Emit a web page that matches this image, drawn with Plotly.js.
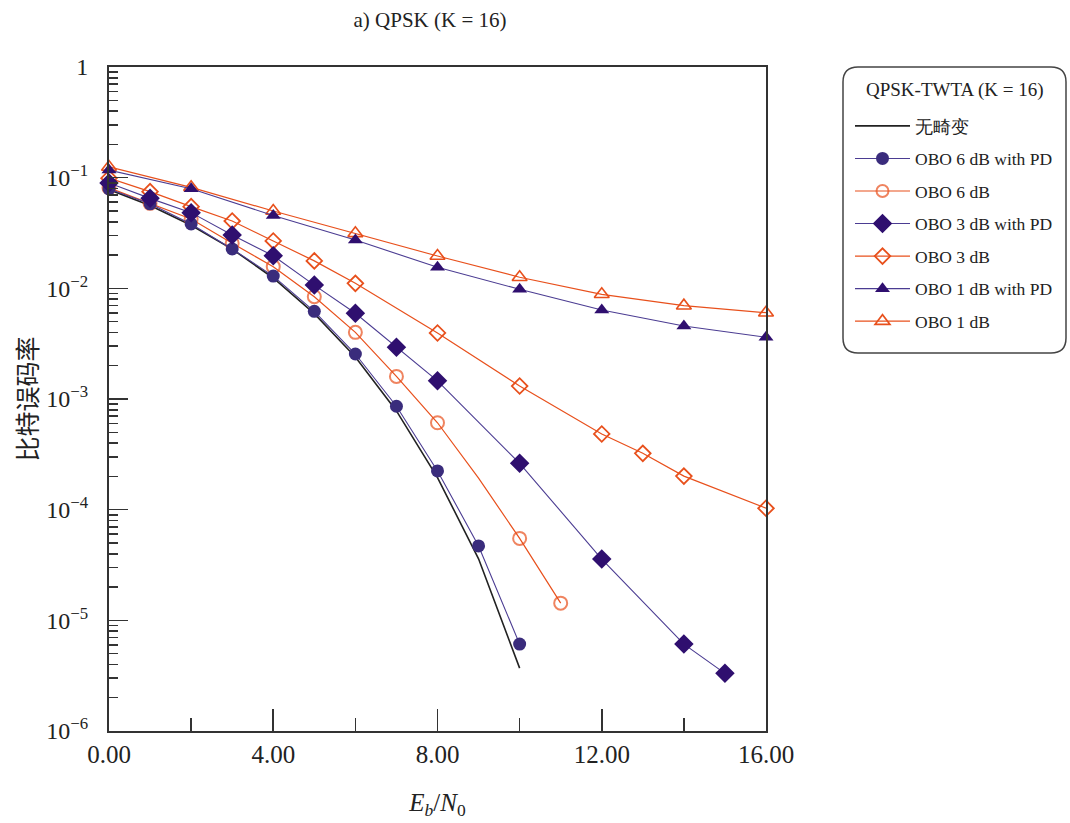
<!DOCTYPE html>
<html>
<head>
<meta charset="utf-8">
<script src="https://cdn.plot.ly/plotly-3.0.1.min.js"></script>
<style>
  html, body { margin: 0; padding: 0; background: #ffffff; }
  #chart { width: 1070px; height: 823px; }
</style>
</head>
<body>
<div id="chart"></div>
<script>
// Eb/N0 grids (dB)
const ebn0Ideal   = [0, 1, 2, 3, 4, 5, 6, 7, 8, 9, 10];
const ebn0Obo6PD  = [0, 1, 2, 3, 4, 5, 6, 7, 8, 9, 10];
const ebn0Obo6    = [0, 1, 2, 3, 4, 5, 6, 7, 8, 9, 10, 11];
const ebn0Obo3PD  = [0, 1, 2, 3, 4, 5, 6, 7, 8, 10, 12, 14, 15];
const ebn0Obo3    = [0, 1, 2, 3, 4, 5, 6, 8, 10, 12, 13, 14, 16];
const ebn0Obo1PD  = [0, 2, 4, 6, 8, 10, 12, 14, 16];
const ebn0Obo1    = [0, 2, 4, 6, 8, 10, 12, 14, 16];

// Bit error rates
const berIdeal  = [0.078, 0.056, 0.0372, 0.0226, 0.0124, 0.0059, 0.0024, 7.8e-4, 1.95e-4, 3.6e-5, 3.7e-6];
const berObo6PD = [0.079, 0.058, 0.0382, 0.0227, 0.0129, 6.2e-3, 2.55e-3, 8.6e-4, 2.24e-4, 4.7e-5, 6.1e-6];
const berObo6   = [0.081, 0.0586, 0.0423, 0.0255, 0.0157, 8.4e-3, 4.0e-3, 1.6e-3, 6.1e-4, 1.93e-4, 5.5e-5, 1.43e-5];
const berObo3PD = [0.0895, 0.065, 0.0483, 0.0303, 0.0197, 0.0107, 5.95e-3, 2.93e-3, 1.46e-3, 2.62e-4, 3.58e-5, 6.1e-6, 3.32e-6];
const berObo3   = [0.099, 0.0747, 0.0547, 0.0406, 0.0268, 0.0177, 0.0111, 3.95e-3, 1.31e-3, 4.83e-4, 3.23e-4, 2.01e-4, 1.03e-4];
const berObo1PD = [0.117, 0.0795, 0.0455, 0.0273, 0.0155, 9.8e-3, 6.37e-3, 4.57e-3, 3.61e-3];
const berObo1   = [0.125, 0.0818, 0.0500, 0.0314, 0.0196, 0.0126, 8.83e-3, 6.97e-3, 6.02e-3];

// Axis tick labels
const xTickVals = [0, 4, 8, 12, 16];
const xTickText = ['0.00', '4.00', '8.00', '12.00', '16.00'];
const yTickVals = [1, 1e-1, 1e-2, 1e-3, 1e-4, 1e-5, 1e-6];
const yTickText = ['1', '10<sup>\u22121</sup>', '10<sup>\u22122</sup>', '10<sup>\u22123</sup>',
                   '10<sup>\u22124</sup>', '10<sup>\u22125</sup>', '10<sup>\u22126</sup>'];

const ORANGE = '#e8501c';
const PURPLE_LINE = '#4b3c92';
const PURPLE_DARK = '#2f0f6f';
const PURPLE_DOT = '#3a2c7c';
const SERIF = 'Liberation Serif, Times New Roman, serif';

// minor ticks at 2..9 within each decade
const yMinor = [];
for (let d = -6; d < 0; d++) {
  for (let m = 2; m <= 9; m++) yMinor.push(m * Math.pow(10, d));
}

// OBO 6 dB curve has a vertex at 9 dB without a symbol
const obo6Sizes = ebn0Obo6.map(v => (v === 9 ? 0 : 13));

const traces = [
  { name: '无畸变', x: ebn0Ideal, y: berIdeal, mode: 'lines',
    line: { color: '#222222', width: 1.6 }, legendrank: 1 },
  { name: 'OBO 6 dB', x: ebn0Obo6, y: berObo6, mode: 'lines+markers',
    line: { color: ORANGE, width: 1.2 },
    marker: { symbol: 'circle-open', size: obo6Sizes, color: ORANGE, line: { width: 2, color: ORANGE } },
    legendrank: 3 },
  { name: 'OBO 3 dB', x: ebn0Obo3, y: berObo3, mode: 'lines+markers',
    line: { color: ORANGE, width: 1.2 },
    marker: { symbol: 'diamond-open', size: 12, color: ORANGE, line: { width: 1.8, color: ORANGE } },
    legendrank: 5 },
  { name: 'OBO 1 dB', x: ebn0Obo1, y: berObo1, mode: 'lines+markers',
    line: { color: ORANGE, width: 1.2 },
    marker: { symbol: 'triangle-up-open', size: 13, color: ORANGE, line: { width: 1.6, color: ORANGE } },
    legendrank: 7 },
  { name: 'OBO 6 dB with PD', x: ebn0Obo6PD, y: berObo6PD, mode: 'lines+markers',
    line: { color: PURPLE_LINE, width: 1.1 },
    marker: { symbol: 'circle', size: 13, color: PURPLE_DOT },
    legendrank: 2 },
  { name: 'OBO 3 dB with PD', x: ebn0Obo3PD, y: berObo3PD, mode: 'lines+markers',
    line: { color: PURPLE_LINE, width: 1.1 },
    marker: { symbol: 'diamond', size: 15, color: PURPLE_DARK },
    legendrank: 4 },
  { name: 'OBO 1 dB with PD', x: ebn0Obo1PD, y: berObo1PD, mode: 'lines+markers',
    line: { color: PURPLE_LINE, width: 1.1 },
    marker: { symbol: 'triangle-up', size: 13, color: PURPLE_DARK },
    legendrank: 6 }
].map((t, i) => Object.assign({ type: 'scatter', cliponaxis: false, legendgroup: 'g' + i }, t));

// plot area in pixels
const L = 109, R = 766, T = 67, B = 731, W = 1070, H = 823;
const px = v => (v - L) / (R - L);
const py = v => (B - v) / (B - T);

// rounded frame around the legend
function roundedBox(x0, y0, x1, y1, r) {
  const P = (a, b) => px(a).toFixed(5) + ',' + py(b).toFixed(5);
  return 'M' + P(x0 + r, y0) + ' L' + P(x1 - r, y0) + ' Q' + P(x1, y0) + ' ' + P(x1, y0 + r) +
         ' L' + P(x1, y1 - r) + ' Q' + P(x1, y1) + ' ' + P(x1 - r, y1) +
         ' L' + P(x0 + r, y1) + ' Q' + P(x0, y1) + ' ' + P(x0, y1 - r) +
         ' L' + P(x0, y0 + r) + ' Q' + P(x0, y0) + ' ' + P(x0 + r, y0) + ' Z';
}

const layout = {
  width: W, height: H,
  margin: { l: L, r: W - R, t: T, b: H - B, pad: 0 },
  paper_bgcolor: '#ffffff', plot_bgcolor: '#ffffff',
  font: { family: SERIF, color: '#222222' },
  showlegend: true,
  title: {
    text: 'a) QPSK (K = 16)',
    font: { family: SERIF, size: 21, color: '#222222' },
    x: px(430), xref: 'paper', xanchor: 'center',
    y: 1 - 20 / H, yref: 'container', yanchor: 'middle'
  },
  xaxis: {
    type: 'linear', range: [0, 16], autorange: false,
    tickmode: 'array', tickvals: xTickVals, ticktext: xTickText,
    ticks: 'inside', ticklen: 22, tickwidth: 1.6, tickcolor: '#333333',
    minor: { tickmode: 'array', tickvals: [2, 6, 10, 14], ticks: 'inside', ticklen: 13, tickwidth: 1.6, tickcolor: '#333333', showgrid: false },
    tickfont: { family: SERIF, size: 25, color: '#222222' },
    showline: true, linewidth: 2, linecolor: '#333333', mirror: true,
    showgrid: false, zeroline: false,
    title: { text: '<i>E</i><sub><i>b</i></sub>/<i>N</i><sub>0</sub>', font: { family: SERIF, size: 25, color: '#222222' }, standoff: 26 }
  },
  yaxis: {
    type: 'log', range: [-6, 0], autorange: false,
    tickmode: 'array', tickvals: yTickVals, ticktext: yTickText,
    ticks: 'inside', ticklen: 19, tickwidth: 1.6, tickcolor: '#333333',
    minor: { tickmode: 'array', tickvals: yMinor, ticks: 'inside', ticklen: 9, tickwidth: 1.6, tickcolor: '#333333', showgrid: false },
    tickfont: { family: SERIF, size: 24, color: '#222222' },
    ticklabelstandoff: 14,
    showline: true, linewidth: 2, linecolor: '#333333', mirror: true,
    showgrid: false, zeroline: false,
    title: { text: '比特误码率', font: { family: 'Noto Sans CJK SC, sans-serif', size: 25, color: '#222222' }, standoff: 2 }
  },
  legend: {
    x: px(850), xanchor: 'left', xref: 'paper',
    y: py(108), yanchor: 'top', yref: 'paper',
    bgcolor: 'rgba(0,0,0,0)', borderwidth: 0,
    font: { family: SERIF, size: 17.5, color: '#222222' },
    traceorder: 'grouped', tracegroupgap: 6.8,
    itemwidth: 55, itemsizing: 'trace'
  },
  annotations: [{
    text: 'QPSK-TWTA (K = 16)', showarrow: false,
    xref: 'paper', yref: 'paper', x: px(955), y: py(90),
    xanchor: 'center', yanchor: 'middle',
    font: { family: SERIF, size: 19, color: '#222222' }
  }],
  shapes: [{
    type: 'path', xref: 'paper', yref: 'paper', layer: 'below',
    path: roundedBox(843, 67, 1066, 353, 15),
    line: { color: '#444444', width: 1.5 }, fillcolor: 'rgba(0,0,0,0)'
  }]
};

Plotly.newPlot('chart', traces, layout, { displayModeBar: false, staticPlot: true });
</script>
</body>
</html>
